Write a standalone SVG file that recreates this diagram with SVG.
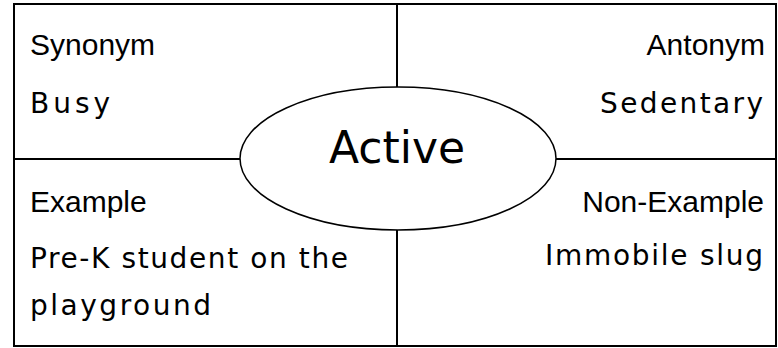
<svg xmlns="http://www.w3.org/2000/svg" width="778" height="348" viewBox="0 0 778 348">
<style>
.line{stroke:#000;stroke-width:2;fill:none}
.lbl{font-family:"Liberation Sans","DejaVu Sans",sans-serif;font-size:30px;fill:#000}
.val{font-family:"DejaVu Sans","Liberation Sans",sans-serif;font-size:28px;fill:#000}
.word{font-family:"DejaVu Sans","Liberation Sans",sans-serif;font-size:44px;fill:#000}
</style>
<rect width="778" height="348" fill="#fff"/>
<g id="connectors">
<rect class="line" x="14" y="4" width="762" height="342"/>
<line class="line" x1="397" y1="4" x2="397" y2="346"/>
<line class="line" x1="14" y1="159" x2="776" y2="159"/>
</g>
<g id="synonym">
<text class="lbl" x="30" y="55">Synonym</text>
<text class="val" x="30" y="113" textLength="80">Busy</text>
</g>
<g id="antonym">
<text class="lbl" x="765" y="55" text-anchor="end">Antonym</text>
<text class="val" x="763" y="113" text-anchor="end" textLength="163">Sedentary</text>
</g>
<g id="example">
<text class="lbl" x="30" y="212">Example</text>
<text class="val" x="30" y="268" textLength="318">Pre-K student on the</text>
<text class="val" x="30" y="315" textLength="181">playground</text>
</g>
<g id="non-example">
<text class="lbl" x="764" y="212" text-anchor="end">Non-Example</text>
<text class="val" x="763" y="265" text-anchor="end" textLength="218">Immobile slug</text>
</g>
<g id="center">
<ellipse cx="398" cy="158.5" rx="158" ry="71.5" fill="#fff" stroke="#000" stroke-width="1.5"/>
<text class="word" x="397" y="163" text-anchor="middle">Active</text>
</g>
</svg>
